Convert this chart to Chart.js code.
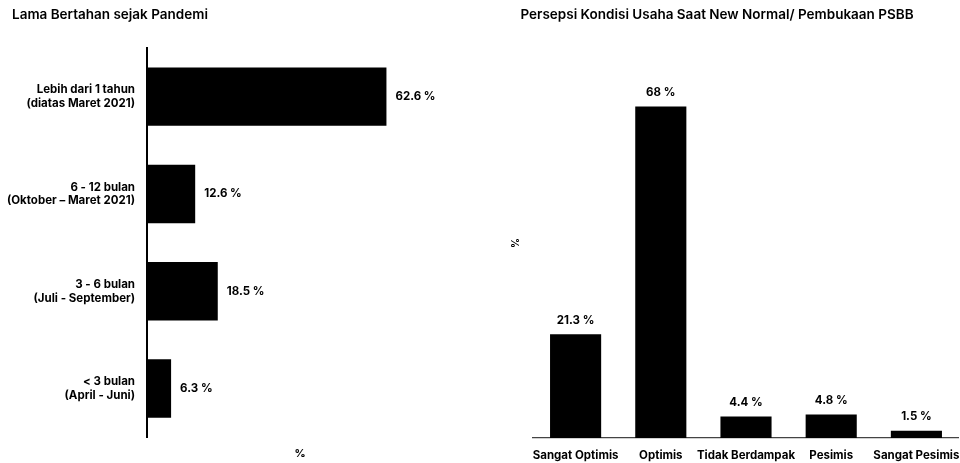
<!DOCTYPE html>
<html lang="id">
<head>
<meta charset="utf-8">
<title>Lama Bertahan & Persepsi Kondisi Usaha</title>
<script src="https://cdn.jsdelivr.net/npm/chart.js@4.4.1/dist/chart.umd.min.js"></script>
<style>
    html, body { margin: 0; padding: 0; background: #fff; }
    body { width: 960px; height: 463px; position: relative; overflow: hidden; }
    .panel { position: absolute; top: 0; height: 463px; }
    #leftPanel { left: 0; width: 480px; }
    #rightPanel { left: 475px; width: 484px; }
</style>
</head>
<body>
<div class="panel" id="leftPanel"><canvas id="durasiChart"></canvas></div>
<div class="panel" id="rightPanel"><canvas id="persepsiChart"></canvas></div>

<script>
// ========== Data ==========
const durasiTitle = 'Lama Bertahan sejak Pandemi';
const durasiLabels = [
    ['Lebih dari 1 tahun', '(diatas Maret 2021)'],
    ['6 - 12 bulan', '(Oktober – Maret 2021)'],
    ['3 - 6 bulan', '(Juli - September)'],
    ['< 3 bulan', '(April - Juni)']
];
const durasiValues = [62.6, 12.6, 18.5, 6.3];

const persepsiTitle = 'Persepsi Kondisi Usaha Saat New Normal/ Pembukaan PSBB';
const persepsiLabels = ['Sangat Optimis', 'Optimis', 'Tidak Berdampak', 'Pesimis', 'Sangat Pesimis'];
const persepsiValues = [21.3, 68, 4.4, 4.8, 1.5];

const axisMax = 80;
const FONT = "'Inter', sans-serif";

Chart.defaults.font.family = FONT;
Chart.defaults.color = '#000';
Chart.defaults.animation = false;

// ========== Value labels (no datalabels plugin available) ==========
const valueLabels = {
    id: 'valueLabels',
    afterDatasetsDraw(chart) {
        const { ctx } = chart;
        const horizontal = chart.options.indexAxis === 'y';
        const meta = chart.getDatasetMeta(0);
        const values = chart.data.datasets[0].data;
        ctx.save();
        ctx.font = `700 11.5px ${FONT}`;
        ctx.fillStyle = '#000';
        meta.data.forEach((bar, i) => {
            const text = `${values[i]} %`;
            ctx.textBaseline = 'middle';
            if (horizontal) {
                ctx.textAlign = 'left';
                ctx.fillText(text, bar.x + 9, bar.y);
            } else {
                ctx.textAlign = 'center';
                ctx.fillText(text, bar.x, bar.y - 14);
            }
        });
        ctx.restore();
    }
};

// nudge the left title inward, the tick labels need the margin
const titleIndent = {
    id: 'titleIndent',
    afterLayout(chart, args, opts) {
        if (chart.titleBlock && opts.left) chart.titleBlock.left += opts.left;
    }
};

const titleOpts = (text, align) => ({
    display: true,
    text: text,
    align: align,
    color: '#000',
    font: { size: 13.5, weight: '600' },
    padding: { top: 7, bottom: 24.8 }
});

// ========== Left: horizontal bars ==========
new Chart(document.getElementById('durasiChart'), {
    type: 'bar',
    data: {
        labels: durasiLabels,
        datasets: [{
            data: durasiValues,
            backgroundColor: '#000',
            barPercentage: 0.6,
            categoryPercentage: 1
        }]
    },
    options: {
        indexAxis: 'y',
        responsive: true,
        maintainAspectRatio: false,
        layout: { padding: { left: 0, right: 27, top: 0, bottom: 0 } },
        plugins: {
            legend: { display: false },
            tooltip: { enabled: false },
            title: titleOpts(durasiTitle, 'start'),
            titleIndent: { left: 12 }
        },
        scales: {
            x: {
                min: 0,
                max: axisMax,
                grid: { display: false },
                border: { display: false },
                ticks: { display: false },
                title: {
                    display: true,
                    text: '%',
                    color: '#000',
                    font: { size: 11, weight: '700' },
                    padding: { top: 0, bottom: 2 }
                },
                afterFit(scale) { scale.height = 25; }
            },
            y: {
                grid: { display: false, drawTicks: false },
                border: { display: true, color: '#000', width: 2 },
                ticks: {
                    color: '#000',
                    padding: 12,
                    font: { size: 11.5, weight: '700' }
                },
                afterFit(scale) { scale.width = 147; }
            }
        }
    },
    plugins: [valueLabels, titleIndent]
});

// ========== Right: vertical bars ==========
new Chart(document.getElementById('persepsiChart'), {
    type: 'bar',
    data: {
        labels: persepsiLabels,
        datasets: [{
            data: persepsiValues,
            backgroundColor: '#000',
            barPercentage: 0.6,
            categoryPercentage: 1
        }]
    },
    options: {
        responsive: true,
        maintainAspectRatio: false,
        layout: { padding: 0 },
        plugins: {
            legend: { display: false },
            tooltip: { enabled: false },
            title: titleOpts(persepsiTitle, 'center')
        },
        scales: {
            x: {
                grid: { display: false, drawTicks: false },
                border: { display: true, color: '#444', width: 1.2 },
                ticks: {
                    color: '#000',
                    padding: 11,
                    maxRotation: 0,
                    autoSkip: false,
                    font: { size: 11.5, weight: '700' }
                },
                afterFit(scale) {
                    scale.height = 25;
                    scale.paddingLeft = 0;
                    scale.paddingRight = 0;
                }
            },
            y: {
                min: 0,
                max: axisMax,
                grid: { display: false },
                border: { display: false },
                ticks: { display: false },
                title: {
                    display: true,
                    text: '%',
                    color: '#000',
                    font: { size: 10, weight: '600' },
                    padding: { top: 35, bottom: 0 }
                },
                afterFit(scale) { scale.width = 58; }
            }
        }
    },
    plugins: [valueLabels]
});
</script>
</body>
</html>
